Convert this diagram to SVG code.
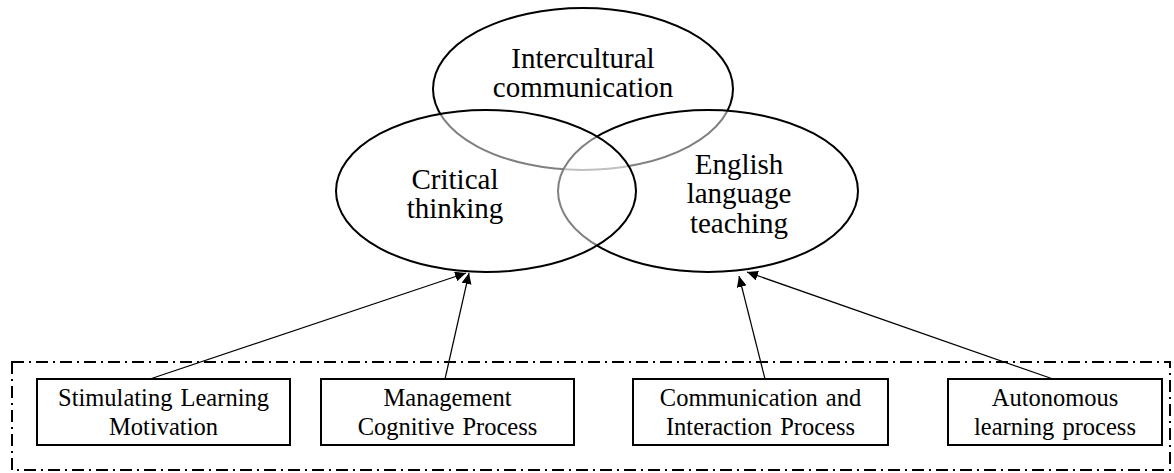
<svg xmlns="http://www.w3.org/2000/svg" width="1174" height="473" viewBox="0 0 1174 473">
<defs>
<style>
.ell{fill:#fff;fill-opacity:0.5;stroke:#000;stroke-width:2}
.box{fill:#fff;stroke:#000;stroke-width:2}
.big{font-family:"Liberation Serif","Times New Roman",serif;font-size:29px;fill:#000;text-anchor:middle}
.sm{font-family:"Liberation Serif","Times New Roman",serif;font-size:24.5px;fill:#000;text-anchor:middle;word-spacing:2px}
.con{stroke:#000;stroke-width:1.2;fill:none;marker-end:url(#ah)}
.frame{fill:none;stroke:#000;stroke-width:2;stroke-dasharray:12 5 2 5}
</style>
<marker id="ah" markerUnits="userSpaceOnUse" markerWidth="12" markerHeight="10" refX="11" refY="5" orient="auto">
<path d="M0,0 L11,5 L0,10 Z" fill="#000"/>
</marker>
</defs>
<rect x="0" y="0" width="1174" height="473" fill="#fff"/>
<rect id="frame" class="frame" x="12" y="362" width="1158" height="108"/>
<g id="intercultural">
<ellipse class="ell" cx="583" cy="89" rx="150" ry="81"/>
<text class="big" x="583" y="68">Intercultural</text>
<text class="big" x="583" y="97">communication</text>
</g>
<g id="english">
<ellipse class="ell" cx="708" cy="191" rx="150" ry="81"/>
<text class="big" x="739" y="174">English</text>
<text class="big" x="739" y="203">language</text>
<text class="big" x="739" y="233">teaching</text>
</g>
<g id="critical">
<ellipse class="ell" cx="486" cy="191" rx="150" ry="81"/>
<text class="big" x="455" y="189">Critical</text>
<text class="big" x="455" y="218">thinking</text>
</g>
<g id="connectors">
<line class="con" x1="150" y1="379" x2="466" y2="273"/>
<line class="con" x1="445" y1="379" x2="469" y2="273"/>
<line class="con" x1="765" y1="379" x2="739" y2="276"/>
<line class="con" x1="1053" y1="379" x2="747" y2="272"/>
</g>
<g id="stimulating">
<rect class="box" x="37" y="379" width="253" height="66"/>
<text class="sm" x="163.5" y="406">Stimulating Learning</text>
<text class="sm" x="163.5" y="435">Motivation</text>
</g>
<g id="management">
<rect class="box" x="321" y="379" width="253" height="66"/>
<text class="sm" x="447.5" y="406">Management</text>
<text class="sm" x="447.5" y="435">Cognitive Process</text>
</g>
<g id="communication">
<rect class="box" x="633" y="379" width="255" height="66"/>
<text class="sm" x="760.5" y="406">Communication and</text>
<text class="sm" x="760.5" y="435">Interaction Process</text>
</g>
<g id="autonomous">
<rect class="box" x="948" y="379" width="214" height="66"/>
<text class="sm" x="1055" y="406">Autonomous</text>
<text class="sm" x="1055" y="435">learning process</text>
</g>
</svg>
